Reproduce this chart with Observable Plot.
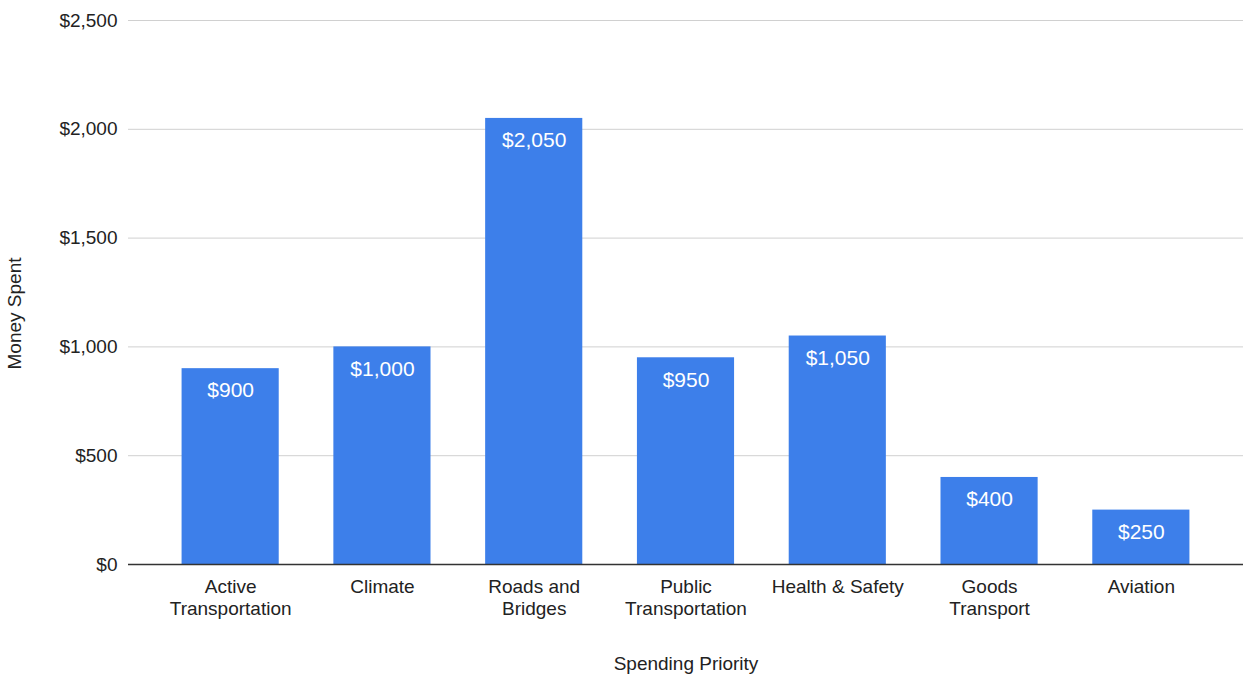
<!DOCTYPE html>
<html>
<head>
<meta charset="utf-8">
<script src="https://cdn.jsdelivr.net/npm/d3@7"></script>
<script src="https://cdn.jsdelivr.net/npm/@observablehq/plot@0.6"></script>
<style>
  html, body { margin: 0; padding: 0; background: #fff; }
  #chart svg { font-family: "Liberation Sans", Arial, sans-serif; }
</style>
</head>
<body>
<div id="chart"></div>
<script>
const categories = ["Active Transportation", "Climate", "Roads and Bridges", "Public Transportation", "Health & Safety", "Goods Transport", "Aviation"];
const categoryLabels = ["Active\nTransportation", "Climate", "Roads and\nBridges", "Public\nTransportation", "Health & Safety", "Goods\nTransport", "Aviation"];
const values = [900, 1000, 2050, 950, 1050, 400, 250];
const yTicks = [0, 500, 1000, 1500, 2000, 2500];

const data = categories.map((c, i) => ({category: c, value: values[i]}));
const labelOf = new Map(categories.map((c, i) => [c, categoryLabels[i]]));
const money = v => "$" + d3.format(",")(v);

const chart = Plot.plot({
  width: 1257,
  height: 677,
  marginLeft: 128,
  marginRight: 14,
  marginTop: 20,
  marginBottom: 113,
  style: {fontFamily: "'Liberation Sans', Arial, sans-serif", fontSize: "19px", color: "#222", background: "#fff"},
  x: {domain: categories, paddingInner: 0.36, paddingOuter: 0.353, round: false, label: null},
  y: {domain: [0, 2500], label: null},
  marks: [
    Plot.gridY(yTicks, {stroke: "#d0d0d0", strokeOpacity: 1, strokeWidth: 1}),
    Plot.barY(data, {x: "category", y: "value", fill: "#3d7fea"}),
    Plot.ruleY([0], {stroke: "#333", strokeWidth: 1.5}),
    Plot.text(data, {x: "category", y: "value", text: d => money(d.value), fill: "#fff", fontSize: 21, dy: 22, lineAnchor: "middle"}),
    Plot.axisY({ticks: yTicks, tickFormat: money, tickSize: 0, tickPadding: 11, fontSize: 19, label: null}),
    Plot.axisX({tickSize: 0, tickPadding: 12, fontSize: 19, lineHeight: 1.2, tickFormat: c => labelOf.get(c), label: null}),
    Plot.text(["Spending Priority"], {frameAnchor: "bottom", dy: 105, fontSize: 19, fill: "#222"}),
    Plot.text(["Money Spent"], {frameAnchor: "left", textAnchor: "middle", dx: -114, dy: 21, rotate: -90, fontSize: 19, fill: "#222"})
  ]
});
document.getElementById("chart").appendChild(chart);
</script>
</body>
</html>
